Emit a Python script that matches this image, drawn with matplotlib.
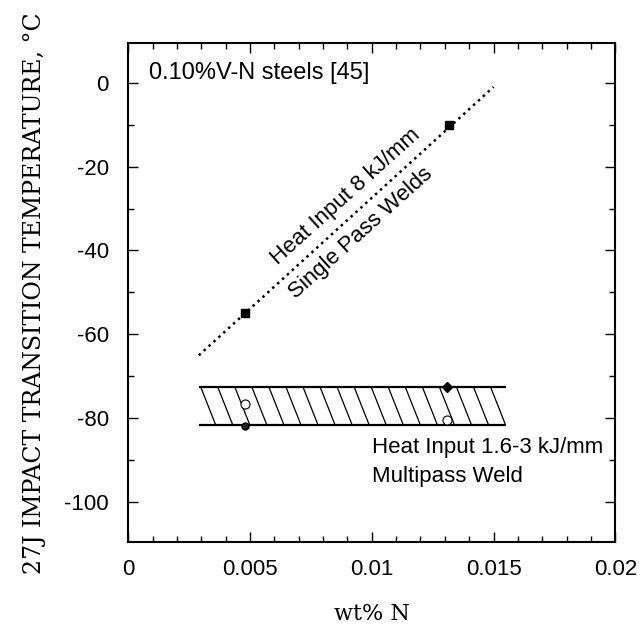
import numpy as np
import matplotlib.pyplot as plt
from matplotlib.ticker import MultipleLocator
from matplotlib.collections import LineCollection

# datos
single_x = [0.00479, 0.01315]
single_y = [-54.9, -10.0]
single_line_x = [0.0029, 0.0150]
single_line_y = [-65.0, -1.0]

band_x = [0.0029, 0.0155]
band_top = -72.6
band_bottom = -81.7

multi_filled_x = [0.0048, 0.0131]
multi_filled_y = [-81.8, -72.5]
multi_open_x = [0.0048, 0.0131]
multi_open_y = [-76.6, -80.5]

x_ticks = [0, 0.005, 0.01, 0.015, 0.02]
x_tick_labels = ['0', '0.005', '0.01', '0.015', '0.02']
y_ticks = [0, -20, -40, -60, -80, -100]

plt.rcParams['axes.unicode_minus'] = False
sans = 'Liberation Sans'
serif = 'DejaVu Serif'

fig = plt.figure(figsize=(6.41, 6.27), dpi=100)
ax = fig.add_axes([0.2, 0.1356, 0.760, 0.796])

# soldaduras de una pasada
ax.plot(single_line_x, single_line_y, color='black', linestyle=':', linewidth=1.8)
ax.plot(single_x, single_y, 's', color='black', markersize=6)

# banda multipasada con rayado inclinado
band = ax.fill_between(band_x, band_bottom, band_top, facecolor='none',
                       edgecolor='none', linewidth=0)
hatch_dx = 0.0007      # separación horizontal del rayado
hatch_run = 0.00062    # desplazamiento horizontal a lo alto de la banda
starts = np.arange(band_x[0] - hatch_run, band_x[1] + hatch_dx, hatch_dx)
segs = [[(s, band_top), (s + hatch_run, band_bottom)] for s in starts]
hatch = LineCollection(segs, colors='black', linewidths=0.9)
ax.add_collection(hatch)
hatch.set_clip_path(band.get_paths()[0], ax.transData)
ax.hlines([band_top, band_bottom], band_x[0], band_x[1], color='black', linewidth=1.6)

ax.plot(multi_filled_x[0], multi_filled_y[0], 'o', color='black', markersize=5,
        markerfacecolor='#222222')
ax.plot(multi_filled_x[1], multi_filled_y[1], 'D', color='black', markersize=5)
ax.plot(multi_open_x, multi_open_y, 'o', markerfacecolor='white',
        markeredgecolor='black', markersize=6.5, markeredgewidth=0.8)

# textos
ax.text(0.00085, 2.4, '0.10%V-N steels [45]', fontsize=17, family=sans,
        ha='left', va='center')
ax.text(0.00892, -27.1, 'Heat Input 8 kJ/mm', fontsize=16, family=sans,
        rotation=42, ha='center', va='center', rotation_mode='anchor')
ax.text(0.00956, -35.9, 'Single Pass Welds', fontsize=16, family=sans,
        rotation=42, ha='center', va='center', rotation_mode='anchor')
ax.text(0.0100, -87, 'Heat Input 1.6-3 kJ/mm', fontsize=16, family=sans,
        ha='left', va='center')
ax.text(0.0100, -94, 'Multipass Weld', fontsize=16, family=sans,
        ha='left', va='center')

ax.set_xlim(0, 0.02)
ax.set_ylim(-109.5, 9.5)
ax.set_xticks(x_ticks)
ax.set_xticklabels(x_tick_labels)
ax.set_yticks(y_ticks)
ax.xaxis.set_minor_locator(MultipleLocator(0.001))
ax.yaxis.set_minor_locator(MultipleLocator(10))
ax.tick_params(which='both', direction='in', top=True, right=True,
               labelsize=16, width=1.0)
ax.tick_params(which='major', length=7)
ax.tick_params(which='minor', length=4)
ax.tick_params(axis='x', pad=12)
ax.tick_params(axis='y', pad=14)
for lab in ax.get_xticklabels() + ax.get_yticklabels():
    lab.set_family(sans)
for sp in ax.spines.values():
    sp.set_linewidth(1.5)

ax.set_xlabel('wt% N', family=serif, fontsize=16)
ax.set_ylabel('27J IMPACT TRANSITION TEMPERATURE, °C', family=serif,
              fontsize=17)
ax.xaxis.set_label_coords(0.5, -0.122)
ax.yaxis.set_label_coords(-0.168, 0.499)

fig.savefig('out.png', dpi=100)
